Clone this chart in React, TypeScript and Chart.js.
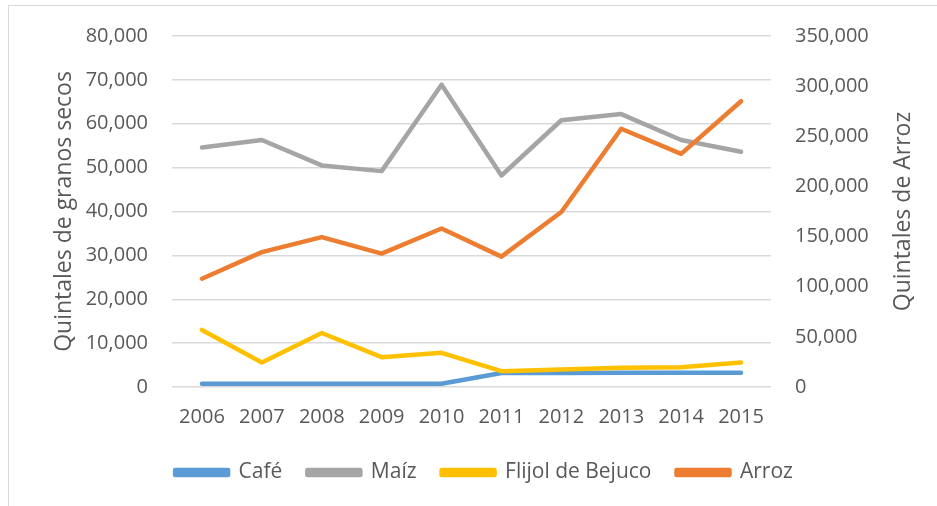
import React, { useEffect, useRef } from "react";
import { Chart, registerables } from "chart.js";

Chart.register(...registerables);

const years = ["2006", "2007", "2008", "2009", "2010", "2011", "2012", "2013", "2014", "2015"];
const cafe = [750, 750, 750, 750, 750, 3200, 3200, 3250, 3250, 3250];
const maiz = [54600, 56300, 50500, 49200, 68900, 48200, 60800, 62200, 56300, 53600];
const flijol = [13000, 5600, 12300, 6800, 7800, 3600, 4000, 4400, 4500, 5600];
const arroz = [108000, 134500, 149500, 133000, 158000, 130000, 174500, 257500, 232500, 285000];

const seriesNames = ["Café", "Maíz", "Flijol de Bejuco", "Arroz"];
const seriesColors = ["#5b9bd5", "#a5a5a5", "#ffc000", "#ed7d31"];

const leftMax = 80000;
const leftStep = 10000;
const rightMax = 350000;
const rightStep = 50000;
const leftTitle = "Quintales de granos secos";
const rightTitle = "Quintales de Arroz";

const FONT = "'Open Sans', sans-serif";
const TEXT = "#595959";

const fmt = (v: any) => Number(v).toLocaleString("en-US");

const rightTitlePlugin = {
  id: "rightTitle",
  afterDraw(chart: any) {
    const s = chart.scales.y1;
    const ctx = chart.ctx;
    ctx.save();
    ctx.font = `23px ${FONT}`;
    ctx.fillStyle = TEXT;
    ctx.textAlign = "center";
    ctx.textBaseline = "middle";
    ctx.translate(s.right - 20, (chart.chartArea.top + chart.chartArea.bottom) / 2);
    ctx.rotate(-Math.PI / 2);
    ctx.fillText(rightTitle, 0, 0);
    ctx.restore();
  },
};

export default function App() {
  const ref = useRef<HTMLCanvasElement | null>(null);

  useEffect(() => {
    document.body.style.margin = "0";
    if (!ref.current) return;
    const values = [cafe, maiz, flijol, arroz];
    const chart = new Chart(ref.current, {
      type: "line",
      data: {
        labels: years,
        datasets: values.map((d, i) => ({
          label: seriesNames[i],
          data: d,
          borderColor: seriesColors[i],
          backgroundColor: seriesColors[i],
          borderWidth: 4.5,
          pointRadius: 0,
          pointHoverRadius: 0,
          tension: 0,
          borderCapStyle: "round" as const,
          borderJoinStyle: "round" as const,
          yAxisID: i === 3 ? "y1" : "y",
          order: 4 - i,
        })),
      },
      plugins: [rightTitlePlugin],
      options: {
        animation: false,
        responsive: false,
        maintainAspectRatio: false,
        layout: { padding: { left: 45, right: 14, top: 26, bottom: 13 } },
        plugins: {
          tooltip: { enabled: false },
          legend: {
            position: "bottom",
            labels: {
              font: { family: FONT, size: 21 },
              color: TEXT,
              boxWidth: 53,
              boxHeight: 5,
              padding: 25,
              sort: (a: any, b: any) => a.datasetIndex - b.datasetIndex,
            },
          },
        },
        scales: {
          x: {
            offset: true,
            grid: { display: false, drawTicks: false },
            border: { display: false },
            ticks: { font: { family: FONT, size: 20 }, color: TEXT, padding: 18, maxRotation: 0 },
            afterFit: (s: any) => {
              s.height = 50;
            },
          },
          y: {
            position: "left",
            min: 0,
            max: leftMax,
            grid: { color: "#d9d9d9", lineWidth: 1.5, drawTicks: false },
            border: { display: false },
            ticks: {
              stepSize: leftStep,
              font: { family: FONT, size: 20 },
              color: TEXT,
              padding: 24,
              callback: fmt,
            },
            title: {
              display: true,
              text: leftTitle,
              font: { family: FONT, size: 23 },
              color: TEXT,
              padding: { top: 6, bottom: 0 },
            },
            afterFit: (s: any) => {
              s.width = 127;
            },
          },
          y1: {
            position: "right",
            min: 0,
            max: rightMax,
            grid: { display: false, drawTicks: false },
            border: { display: false },
            ticks: {
              stepSize: rightStep,
              font: { family: FONT, size: 20 },
              color: TEXT,
              padding: 24,
              callback: fmt,
            },
            afterFit: (s: any) => {
              s.width = 152;
            },
          },
        },
      },
    });
    return () => chart.destroy();
  }, []);

  return (
    <div style={{ position: "relative", width: 937, height: 506, overflow: "hidden", background: "#fff" }}>
      <div
        style={{
          position: "absolute",
          left: 8,
          top: 5,
          width: 960,
          height: 520,
          border: "1px solid #d9d9d9",
          boxSizing: "border-box",
        }}
      />
      <canvas ref={ref} width={937} height={506} style={{ position: "absolute", left: 0, top: 0 }} />
    </div>
  );
}
